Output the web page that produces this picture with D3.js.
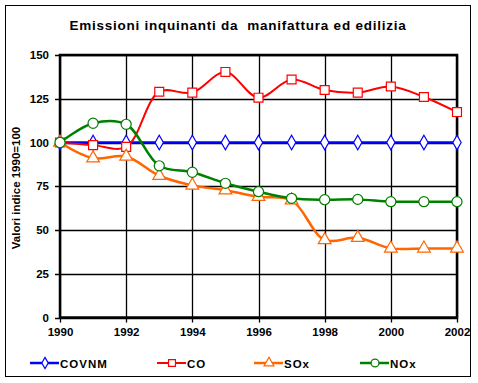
<!DOCTYPE html>
<html><head><meta charset="utf-8">
<script src="https://cdn.jsdelivr.net/npm/d3@7"></script>
<style>body{margin:0;background:#fff;} text{font-family:"Liberation Sans",Arial,sans-serif;}</style>
</head><body>
<svg id="c" width="478" height="383"></svg>
<script>
const years = [1990,1991,1992,1993,1994,1995,1996,1997,1998,1999,2000,2001,2002];
const covnm = [100,100,100,100,100,100,100,100,100,100,100,100,100];
const co    = [100,98.5,97.5,129,128.5,140.3,125.6,136,130,128.5,132,126,117.4];
const sox   = [100,91,92,81,75.5,72.7,69,67,44.3,45.6,39.5,39.5,39.5];
const nox   = [100,111,110.4,86.7,83,76.7,71.9,68.1,67.3,67.5,66.2,66.2,66.2];
const yTicks = [0,25,50,75,100,125,150];
const xTicks = [1990,1992,1994,1996,1998,2000,2002];
const seriesNames = ["COVNM","CO","SOx","NOx"];
const title = "Emissioni inquinanti da  manifattura ed edilizia";
const yTitle = "Valori indice 1990=100";

const series = [
  {name:"COVNM", values:covnm, color:"#0000FF", sym:"diamond", w:2.5},
  {name:"CO", values:co, color:"#FF0000", sym:"square", w:2},
  {name:"SOx", values:sox, color:"#FF6600", sym:"triangle", w:2.5},
  {name:"NOx", values:nox, color:"#008000", sym:"circle", w:2.5}
];

const svg = d3.select("#c");
const L=60, R=457, T=55, B=317.5;
const x = d3.scaleLinear().domain([1990,2002]).range([L,R]);
const y = d3.scaleLinear().domain([0,150]).range([B,T]);

// outer frame
svg.append("rect").attr("x",5.5).attr("y",5.5).attr("width",465).attr("height",371)
  .attr("fill","#fff").attr("stroke","#000").attr("stroke-width",1);

svg.append("text").attr("x",238).attr("y",30).attr("text-anchor","middle")
  .attr("font-size",13.5).attr("font-weight","bold").attr("letter-spacing",0.75)
  .style("white-space","pre").text(title);

// grid
const g = svg.append("g");
g.selectAll(".hg").data(yTicks).enter().append("line")
  .attr("x1",L-5).attr("x2",R).attr("y1",d=>Math.round(y(d))+0.5).attr("y2",d=>Math.round(y(d))+0.5)
  .attr("stroke","#000").attr("stroke-width",1.3);
g.selectAll(".vg").data(xTicks).enter().append("line")
  .attr("y1",T).attr("y2",B+5).attr("x1",d=>Math.round(x(d))+0.5).attr("x2",d=>Math.round(x(d))+0.5)
  .attr("stroke","#000").attr("stroke-width",1.3);
// plot border
svg.append("rect").attr("x",L).attr("y",T).attr("width",R-L).attr("height",B-T)
  .attr("fill","none").attr("stroke","#000").attr("stroke-width",2.5);

// axes labels via d3 axes
const yAxis = svg.append("g").attr("transform",`translate(${L},0)`)
  .call(d3.axisLeft(y).tickValues(yTicks).tickSize(0).tickPadding(11));
const xAxis = svg.append("g").attr("transform",`translate(0,${B})`)
  .call(d3.axisBottom(x).tickValues(xTicks).tickFormat(d3.format("d")).tickSize(0).tickPadding(10));
[yAxis,xAxis].forEach(a=>{a.select(".domain").remove();
  a.selectAll("text").attr("font-size",11.5).attr("font-weight","bold").attr("fill","#000")
   .style("font-family","'Liberation Sans',Arial,sans-serif");});

svg.append("text").attr("transform","translate(20,188) rotate(-90)").attr("text-anchor","middle")
  .attr("font-size",11.5).attr("font-weight","bold").text(yTitle);

const symMap = {diamond:d3.symbolDiamond, square:d3.symbolSquare, triangle:d3.symbolTriangle, circle:d3.symbolCircle};
const symSize = {diamond:60, square:80, triangle:70, circle:80};
const line = d3.line().x((d,i)=>x(years[i])).y(d=>y(d)).curve(d3.curveCatmullRom.alpha(0.5));

series.forEach(s=>{
  const gs = svg.append("g");
  gs.append("path").attr("d",line(s.values)).attr("fill","none").attr("stroke",s.color).attr("stroke-width",s.w);
  gs.selectAll("path.m").data(s.values).enter().append("path").attr("class","m")
    .attr("d",d3.symbol().type(symMap[s.sym]).size(symSize[s.sym]))
    .attr("transform",(d,i)=>`translate(${x(years[i])},${y(d)})`)
    .attr("fill","#fff").attr("stroke",s.color).attr("stroke-width",1.2);
});

// legend
const legX = [30,157,254,360];
series.forEach((s,i)=>{
  const lg = svg.append("g").attr("transform",`translate(${legX[i]},363)`);
  lg.append("line").attr("x1",0).attr("x2",29).attr("stroke",s.color).attr("stroke-width",s.w);
  lg.append("path").attr("d",d3.symbol().type(symMap[s.sym]).size(symSize[s.sym]*0.6))
    .attr("transform","translate(15,0)").attr("fill","#fff").attr("stroke",s.color).attr("stroke-width",1.2);
  lg.append("text").attr("x",30).attr("y",4.5).attr("font-size",11.5).attr("font-weight","bold")
    .attr("letter-spacing",1).text(seriesNames[i]);
});
</script>
</body></html>
